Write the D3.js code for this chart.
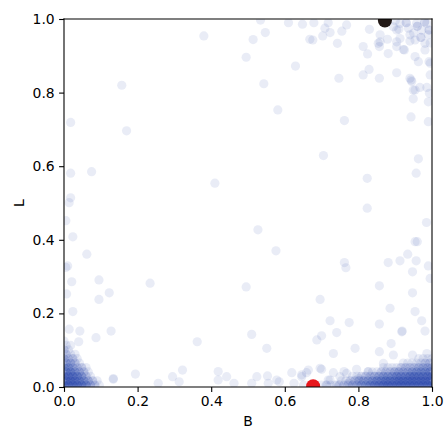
<!DOCTYPE html>
<html>
<head>
<meta charset="utf-8">
<script src="https://cdn.jsdelivr.net/npm/d3@7"></script>
<style>
  body { margin: 0; background: #fff; }
  text { font-family: "DejaVu Sans", sans-serif; }
</style>
</head>
<body>
<div id="chart"></div>
<script>
//-- Single observations [B, L]
var sparse_points = [
  [0.157,0.820],[0.018,0.719],[0.170,0.696],
  [0.380,0.954],[0.534,0.997],[0.610,0.990],[0.648,0.986],[0.668,0.945],[0.547,0.963],[0.514,0.944],[0.495,0.896],[0.629,0.872],[0.543,0.824],[0.581,0.753],
  [0.679,0.990],[0.718,0.990],[0.709,0.975],[0.723,0.963],[0.703,0.954],[0.676,0.943],[0.755,0.967],[0.768,0.984],[0.743,0.934],[0.747,0.839],[0.762,0.724],
  [0.813,0.925],[0.825,0.905],[0.830,0.972],[0.813,0.848],[0.829,0.863],[0.857,0.839],[0.857,0.925],[0.859,0.938],[0.881,0.906],[0.904,0.854],[0.879,0.945],[0.904,0.925],[0.925,0.916],[0.913,0.947],
  [0.954,0.898],[0.963,0.884],[0.981,0.916],[0.995,0.880],[0.995,0.848],[0.943,0.834],[0.949,0.807],[0.967,0.814],[0.986,0.814],[0.949,0.783],[0.990,0.775],[0.943,0.734],[0.990,0.721],
  [0.854,0.934],[0.859,0.957],[0.904,0.938],[0.904,0.970],[0.922,0.917],[0.895,0.979],[0.913,0.988],[0.936,0.975],[0.958,0.988],[0.972,0.970],[0.986,0.988],[0.981,0.934],[0.954,0.943],[0.940,0.957],[0.990,0.957],[0.992,0.884],[0.940,0.839],[0.945,0.830],[0.954,0.807],[0.993,0.798],
  [0.705,0.629],[0.963,0.620],[0.957,0.581],[0.824,0.567],[0.824,0.486],[0.985,0.447],[0.954,0.395],[0.960,0.395],[0.934,0.361],[0.913,0.343],[0.881,0.338],[0.957,0.343],[0.990,0.329],[0.947,0.313],[0.995,0.295],[0.762,0.338],[0.766,0.324],[0.857,0.275],[0.947,0.256],[0.696,0.238],[0.886,0.214],[0.954,0.205],
  [0.018,0.581],[0.075,0.585],[0.018,0.514],[0.014,0.501],[0.005,0.452],[0.024,0.408],[0.062,0.361],[0.010,0.329],[0.005,0.325],[0.021,0.286],[0.095,0.291],[0.123,0.256],[0.007,0.253],[0.095,0.238],[0.024,0.205],[0.234,0.282],
  [0.014,0.157],[0.043,0.152],[0.087,0.134],[0.128,0.152],[0.040,0.123],[0.194,0.035],[0.134,0.023],[0.134,0.021],
  [0.410,0.554],[0.527,0.427],[0.576,0.370],[0.495,0.272],
  [0.362,0.123],[0.510,0.143],[0.551,0.105],[0.256,0.010],[0.295,0.028],[0.313,0.014],[0.322,0.046],[0.419,0.042],[0.419,0.019],[0.442,0.028],[0.462,0.010],[0.510,0.010],[0.524,0.028],[0.553,0.030],[0.555,0.010],[0.578,0.019],[0.585,0.014],[0.619,0.039],[0.625,0.010],[0.646,0.028],[0.664,0.046],[0.651,0.005],[0.696,0.051],[0.723,0.019],[0.714,0.005],[0.741,0.005],[0.768,0.037],[0.773,0.010],
  [0.972,0.180],[0.981,0.152],[0.723,0.180],[0.775,0.175],[0.857,0.171],[0.919,0.152],[0.741,0.148],[0.700,0.139],[0.687,0.128],[0.889,0.118],[0.791,0.105],[0.732,0.091],[0.857,0.096],[0.895,0.087],[0.947,0.087],[0.986,0.091],[0.700,0.048],[0.868,0.064],[0.659,0.039],[0.646,0.033],[0.732,0.039],[0.761,0.042],[0.718,0.019],[0.750,0.028],[0.800,0.023],[0.827,0.042],[0.795,0.048],[0.918,0.150]
];

//-- Stacked observations [B, L, count]
var cluster_low_left = [
  [0.000,0.005,7],[0.012,0.005,7],[0.024,0.005,7],[0.036,0.005,7],[0.048,0.005,6],[0.060,0.005,5],[0.072,0.005,3],[0.084,0.005,2],[0.096,0.005,1],
  [0.006,0.017,7],[0.018,0.017,7],[0.030,0.017,6],[0.042,0.017,5],[0.054,0.017,4],[0.066,0.017,3],[0.078,0.017,2],[0.090,0.017,1],
  [0.000,0.029,6],[0.012,0.029,6],[0.024,0.029,6],[0.036,0.029,5],[0.048,0.029,4],[0.060,0.029,2],[0.072,0.029,1],
  [0.006,0.041,5],[0.018,0.041,5],[0.030,0.041,4],[0.042,0.041,3],[0.054,0.041,2],[0.066,0.041,1],
  [0.000,0.053,4],[0.012,0.053,4],[0.024,0.053,3],[0.036,0.053,2],[0.048,0.053,2],[0.060,0.053,1],
  [0.006,0.065,3],[0.018,0.065,3],[0.030,0.065,2],[0.042,0.065,1],
  [0.000,0.077,3],[0.012,0.077,2],[0.024,0.077,2],[0.036,0.077,1],
  [0.006,0.089,2],[0.018,0.089,1],[0.030,0.089,1],
  [0.000,0.101,2],[0.012,0.101,1],
  [0.006,0.113,1],[0.018,0.113,1],
  [0.000,0.125,1]
];

var cluster_low_right = [
  [0.700,0.005,1],[0.712,0.005,1],[0.724,0.005,1],[0.736,0.005,1],[0.748,0.005,2],[0.760,0.005,2],[0.772,0.005,2],[0.784,0.005,3],[0.796,0.005,3],[0.808,0.005,4],[0.820,0.005,4],[0.832,0.005,5],[0.844,0.005,6],[0.856,0.005,6],[0.868,0.005,7],[0.880,0.005,7],[0.892,0.005,7],[0.904,0.005,7],[0.916,0.005,7],[0.928,0.005,7],[0.940,0.005,7],[0.952,0.005,7],[0.964,0.005,7],[0.976,0.005,7],[0.988,0.005,7],[1.000,0.005,7],
  [0.754,0.017,1],[0.766,0.017,1],[0.778,0.017,2],[0.790,0.017,2],[0.802,0.017,3],[0.814,0.017,3],[0.826,0.017,4],[0.838,0.017,4],[0.850,0.017,5],[0.862,0.017,5],[0.874,0.017,6],[0.886,0.017,6],[0.898,0.017,6],[0.910,0.017,7],[0.922,0.017,7],[0.934,0.017,7],[0.946,0.017,7],[0.958,0.017,7],[0.970,0.017,7],[0.982,0.017,7],[0.994,0.017,7],
  [0.784,0.029,1],[0.796,0.029,1],[0.808,0.029,2],[0.820,0.029,2],[0.832,0.029,2],[0.844,0.029,3],[0.856,0.029,3],[0.868,0.029,4],[0.880,0.029,4],[0.892,0.029,4],[0.904,0.029,5],[0.916,0.029,5],[0.928,0.029,5],[0.940,0.029,6],[0.952,0.029,6],[0.964,0.029,6],[0.976,0.029,6],[0.988,0.029,6],[1.000,0.029,6],
  [0.826,0.041,1],[0.838,0.041,1],[0.850,0.041,1],[0.862,0.041,2],[0.874,0.041,2],[0.886,0.041,2],[0.898,0.041,3],[0.910,0.041,3],[0.922,0.041,3],[0.934,0.041,3],[0.946,0.041,4],[0.958,0.041,4],[0.970,0.041,4],[0.982,0.041,4],[0.994,0.041,5],
  [0.868,0.053,1],[0.880,0.053,1],[0.892,0.053,1],[0.904,0.053,1],[0.916,0.053,2],[0.928,0.053,2],[0.940,0.053,2],[0.952,0.053,2],[0.964,0.053,3],[0.976,0.053,3],[0.988,0.053,3],[1.000,0.053,3],
  [0.922,0.065,1],[0.934,0.065,1],[0.946,0.065,1],[0.958,0.065,1],[0.970,0.065,1],[0.982,0.065,2],[0.994,0.065,2],
  [0.964,0.077,1],[0.976,0.077,1],[0.988,0.077,1],[1.000,0.077,1]
];

var cluster_top_right = [
  [0.930,0.990,2],[0.960,0.980,2],[0.980,0.992,2],[0.950,0.962,1],[0.970,0.950,2],[0.992,0.970,2],[0.910,0.972,1],[0.940,0.940,1],[0.900,0.995,1],[0.995,0.935,1]
];

//-- Highlighted points [B, L]
var point_black = [0.872, 0.996];
var point_red = [0.677, 0.002];

var tick_values = [0, 0.2, 0.4, 0.6, 0.8, 1.0];

function SC_Make_Canvas(wrap) {
  var tot_width = 446;
  var tot_height = 429;
  var margin = {left: 64, right: 14, top: 19, bottom: 42};
  
  wrap.width = tot_width - margin.left - margin.right;
  wrap.height = tot_height - margin.top - margin.bottom;
  wrap.margin = margin;
  
  var root = d3.select(wrap.id)
    .append("svg")
      .attr("width", tot_width)
      .attr("height", tot_height);
  
  root.append("rect")
    .attr("width", tot_width)
    .attr("height", tot_height)
    .attr("fill", "white");
  
  root.append("defs")
    .append("clipPath")
      .attr("id", "plot_clip")
    .append("rect")
      .attr("width", wrap.width)
      .attr("height", wrap.height);
  
  wrap.svg = root.append("g")
    .attr("transform", "translate(" + margin.left + "," + margin.top + ")");
}

function SC_initialize(wrap) {
  var x = d3.scaleLinear().domain([0, 1]).range([0, wrap.width]);
  var y = d3.scaleLinear().domain([0, 1]).range([wrap.height, 0]);
  var base_alpha = 0.1;
  var blue = "#2a47ab";
  
  var marks = wrap.svg.append("g")
    .attr("clip-path", "url(#plot_clip)");
  
  //-- Stacked points: opacity of n overlapping markers
  var stacked = cluster_low_left.concat(cluster_low_right, cluster_top_right);
  marks.selectAll()
    .data(stacked)
    .enter()
    .append("circle")
      .attr("cx", function (d) {return x(d[0]);})
      .attr("cy", function (d) {return y(d[1]);})
      .attr("r", 4.6)
      .style("fill", blue)
      .style("fill-opacity", function (d) {return 1 - Math.pow(1 - base_alpha, d[2]);})
  
  marks.selectAll()
    .data(sparse_points)
    .enter()
    .append("circle")
      .attr("cx", function (d) {return x(d[0]);})
      .attr("cy", function (d) {return y(d[1]);})
      .attr("r", 4.6)
      .style("fill", blue)
      .style("fill-opacity", base_alpha)
  
  marks.selectAll()
    .data([[point_black, "#231a17"], [point_red, "#e8161c"]])
    .enter()
    .append("circle")
      .attr("cx", function (d) {return x(d[0][0]);})
      .attr("cy", function (d) {return y(d[0][1]);})
      .attr("r", 7)
      .style("fill", function (d) {return d[1];})
  
  //-- Axes
  var fmt = d3.format(".1f");
  var x_axis = d3.axisBottom(x).tickValues(tick_values).tickFormat(fmt).tickSize(4.9).tickPadding(4.4);
  var y_axis = d3.axisLeft(y).tickValues(tick_values).tickFormat(fmt).tickSize(4.9).tickPadding(4.4);
  
  var gx = wrap.svg.append("g")
    .attr("transform", "translate(0," + wrap.height + ")")
    .call(x_axis);
  var gy = wrap.svg.append("g")
    .call(y_axis);
  
  [gx, gy].forEach(function (g) {
    g.select(".domain").remove();
    g.selectAll("line").attr("stroke", "#000").attr("stroke-width", 1.1);
    g.selectAll("text")
      .attr("fill", "#000")
      .style("font-size", "13.9px")
      .style("font-family", "'DejaVu Sans', sans-serif");
  });
  
  //-- Spines
  var spines = [
    [0, 0, 0, wrap.height],
    [0, 0, wrap.width, 0],
    [wrap.width, 0, wrap.width, wrap.height],
    [0, wrap.height, wrap.width, wrap.height]
  ];
  wrap.svg.selectAll()
    .data(spines)
    .enter()
    .append("line")
      .attr("x1", function (d) {return d[0];})
      .attr("y1", function (d) {return d[1];})
      .attr("x2", function (d) {return d[2];})
      .attr("y2", function (d) {return d[3];})
      .attr("stroke", "#000")
      .attr("stroke-width", 1.1)
      .attr("stroke-linecap", "square")
  
  //-- Axis labels
  wrap.svg.append("text")
    .attr("x", wrap.width / 2)
    .attr("y", wrap.height + 39)
    .attr("text-anchor", "middle")
    .style("font-size", "13.9px")
    .text("B")
  
  wrap.svg.append("text")
    .attr("transform", "translate(" + (-40) + "," + (wrap.height / 2) + ") rotate(-90)")
    .attr("text-anchor", "middle")
    .style("font-size", "13.9px")
    .text("L")
}

var wrap = {id: "#chart"};
SC_Make_Canvas(wrap);
SC_initialize(wrap);
</script>
</body>
</html>
